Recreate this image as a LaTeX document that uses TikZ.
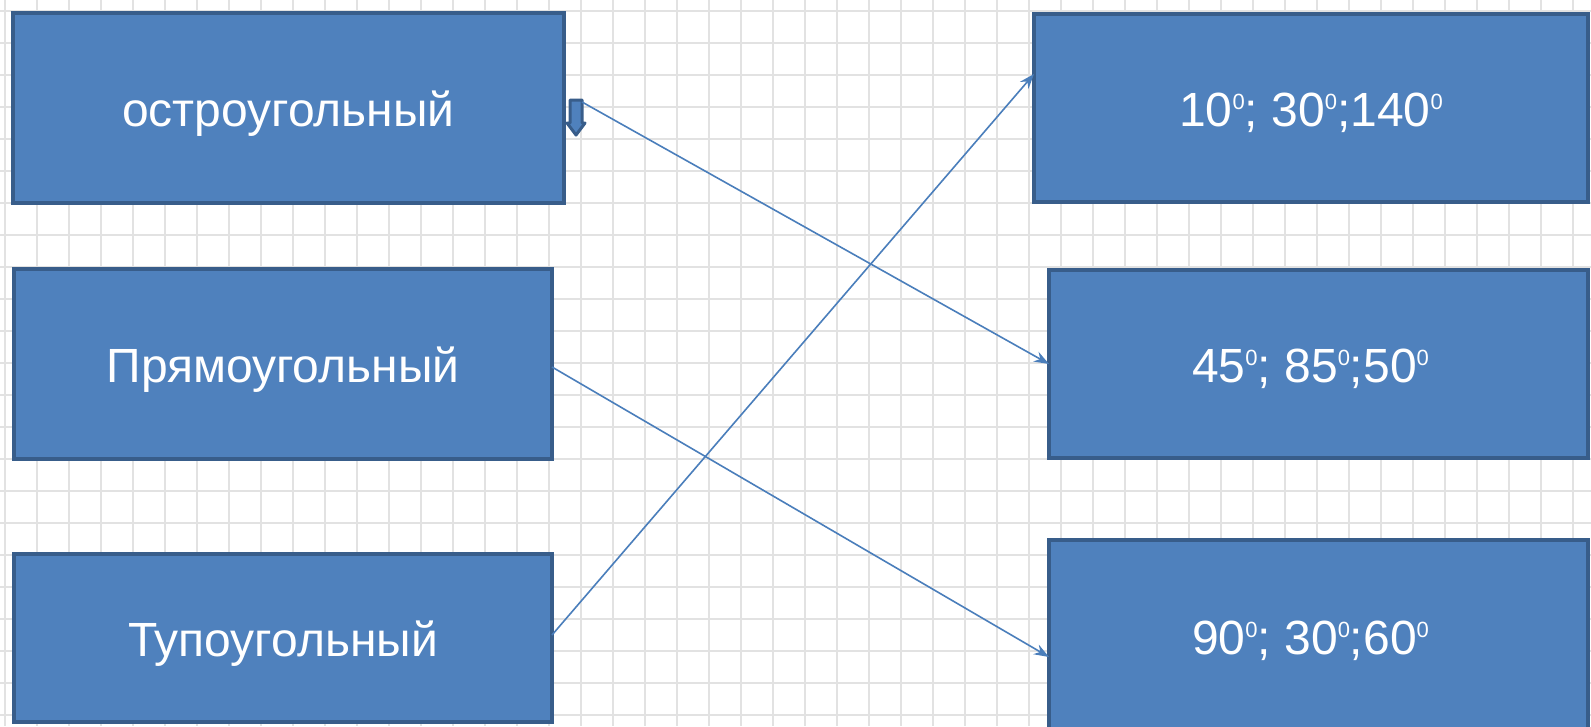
\documentclass[tikz,border=0pt]{standalone}
\usepackage{fontspec}
\setmainfont{Liberation Sans}
\usetikzlibrary{arrows.meta}
\definecolor{boxblue}{HTML}{4F81BD}
\definecolor{boxedge}{HTML}{385D8A}
\definecolor{linkblue}{HTML}{4A7EBB}
\definecolor{gridgray}{RGB}{226,226,226}
\newcommand\dgr{\raisebox{17.5pt}{\fontsize{22}{22}\selectfont 0}}
\tikzset{
  box/.style={fill=boxblue, draw=boxedge, line width=4pt, text=white,
    font=\fontsize{48}{54}\selectfont, inner sep=0pt, outer sep=0pt,
    text height=37pt, text depth=0pt},
  link/.style={draw=linkblue, line width=1.6pt,
    -{Stealth[length=15pt, width=11pt, inset=5pt]}},
  gridline/.style={draw=gridgray, line width=2.2pt}
}
\begin{document}
\begin{tikzpicture}[x=1pt, y=-1pt]
\useasboundingbox (0,0) rectangle (1591,726);
\clip (0,0) rectangle (1591,726);
\fill[white] (0,0) rectangle (1591,726);
% graph paper
\foreach \k in {0,...,49} { \draw[gridline] (5+32*\k,0) -- (5+32*\k,726); }
\foreach \k in {0,...,22} { \draw[gridline] (0,11+32*\k) -- (1591,11+32*\k); }
% left boxes
\node[box, minimum width=551pt, minimum height=190pt] (l1) at (288.5,108) {остроугольный};
\node[box, minimum width=538pt, minimum height=190pt] (l2) at (283,364) {Прямоугольный};
\node[box, minimum width=538pt, minimum height=168pt] (l3) at (283,638) {Тупоугольный};
% right boxes
\node[box, minimum width=554pt, minimum height=188pt] (r1) at (1311,108) {10\dgr; 30\dgr;140\dgr};
\node[box, minimum width=539pt, minimum height=188pt] (r2) at (1318.5,364) {\hspace*{-16pt}45\dgr; 85\dgr;50\dgr};
\node[box, minimum width=539pt, minimum height=192pt] (r3) at (1318.5,636) {\hspace*{-16pt}90\dgr; 30\dgr;60\dgr};
% small block arrow next to the first box
\filldraw[fill=boxblue, draw=boxedge, line width=3pt, line join=round]
  (570,100) -- (582,100) -- (582,123) -- (585,123) -- (576,135) -- (567,123) -- (570,123) -- cycle;
\coordinate (tick) at (582,102);
% connectors
\draw[link] (tick) -- (r2.west);
\draw[link] ([yshift=-3pt]l2.east) -- ([yshift=-21pt]r3.west);
\draw[link] ([yshift=3pt]l3.east) -- ([yshift=34pt]r1.west);
\end{tikzpicture}
\end{document}
